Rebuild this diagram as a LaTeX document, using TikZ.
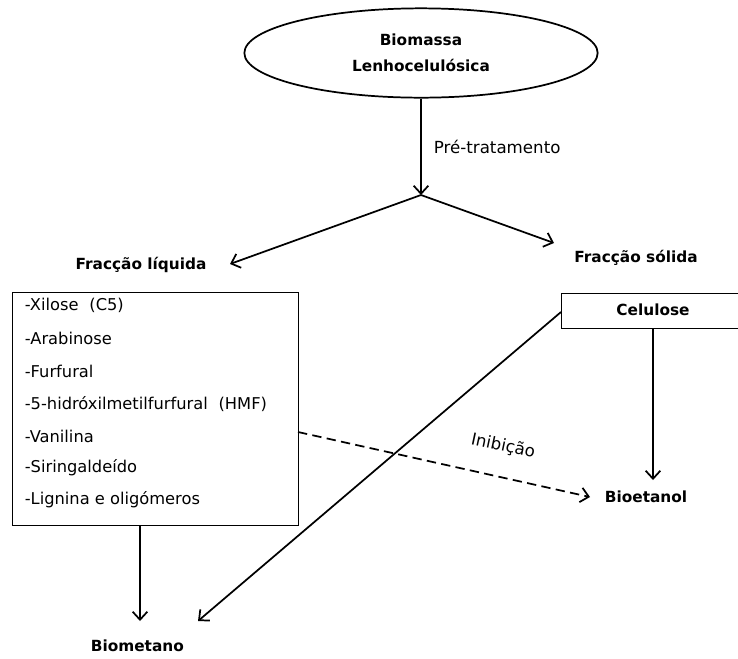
\documentclass[tikz,border=0pt]{standalone}
\usepackage{fontspec}
\setmainfont{DejaVu Sans}
\usetikzlibrary{arrows.meta,shapes.geometric}
\begin{document}
\begin{tikzpicture}[x=0.75pt,y=-0.75pt,
  line width=1.3pt,
  arr/.style={-{Straight Barb[length=6pt,width=11pt,line width=1.3pt]}},
  lbl/.style={font=\fontsize{11.5}{13}\selectfont\bfseries, inner sep=0pt},
  item/.style={font=\fontsize{12.2}{14}\selectfont, anchor=west, inner sep=0pt},
  box/.style={draw, line width=0.8pt, inner sep=0pt}]
  \useasboundingbox (0,0) rectangle (738,658);

  % source ellipse
  \node[ellipse, draw, line width=1.3pt, minimum width=265pt, minimum height=67pt,
        inner sep=0pt, align=center, font=\fontsize{11.5}{19.5}\selectfont\bfseries] (bio) at (421,53)
        {Biomassa\\Lenhocelulósica};

  \coordinate (split) at (421,195);
  \node[inner sep=0pt, font=\fontsize{12.5}{14}\selectfont, anchor=west] (pre) at (433,147) {Pré-tratamento};

  % branch labels
  \node[lbl] (liq) at (141,265) {Fracção líquida};
  \node[lbl] (sol) at (636,258) {Fracção sólida};
  \coordinate (liqtip) at (230,264);
  \coordinate (soltip) at (554,243);

  % liquid fraction box
  \node[box, minimum width=214.5pt, minimum height=175pt, anchor=north west] (lbox) at (12,292) {};
  \node[item] (i1) at (24,305) {-Xilose\hspace{0.35em} (C5)};
  \node[item] (i2) at (24,338) {-Arabinose};
  \node[item] (i3) at (24,371) {-Furfural};
  \node[item] (i4) at (24,404) {-5-hidróxilmetilfurfural\hspace{0.35em} (HMF)};
  \node[item] (i5) at (24,436) {-Vanilina};
  \node[item] (i6) at (24,468) {-Siringaldeído};
  \node[item] (i7) at (24,500) {-Lignina e oligómeros};

  % solid fraction box
  \node[box, minimum width=133.5pt, minimum height=26.25pt, anchor=north west] (cel) at (561,293) {};
  \node[lbl] (celt) at (653,310) {Celulose};

  % products
  \node[lbl, anchor=west] (etoh) at (604,497) {Bioetanol};
  \node[lbl, anchor=west] (meth) at (90,646) {Biometano};
  \node[inner sep=0pt, font=\fontsize{12.5}{14}\selectfont, rotate=-12] (inib) at (503,446) {Inibição};

  \coordinate (dashstart) at (298,432);
  \coordinate (etohtip) at (590,497);
  \coordinate (celleft) at (561,312);
  \coordinate (methtip1) at (140,621);
  \coordinate (methtip2) at (198,621);
  \coordinate (celbot) at (653,328);
  \coordinate (etohtip2) at (653,480);
  \coordinate (lboxbot) at (140,525);

  % connectors
  \draw[arr] (bio.south) -- (split);
  \draw[arr] (split) -- (liqtip);
  \draw[arr] (split) -- (soltip);
  \draw[arr] (celbot) -- (etohtip2);
  \draw[arr, dashed, dash pattern=on 7pt off 4pt] (dashstart) -- (etohtip);
  \draw[arr] (celleft) -- (methtip2);
  \draw[arr] (lboxbot) -- (methtip1);
\end{tikzpicture}
\end{document}
